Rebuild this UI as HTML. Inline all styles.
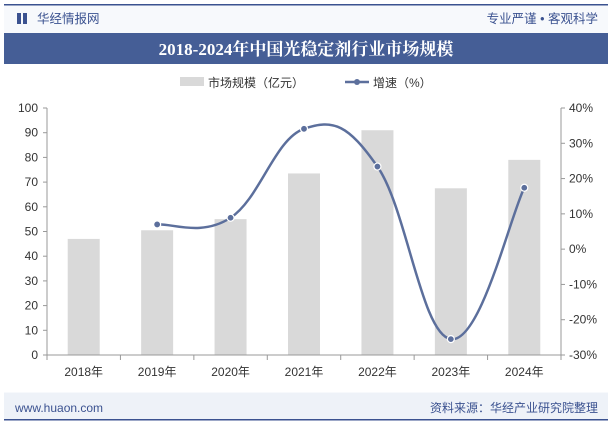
<!DOCTYPE html>
<html><head><meta charset="utf-8">
<style>
body{margin:0;width:612px;height:425px;overflow:hidden;background:#fff;font-family:"Liberation Sans","Noto Sans CJK SC",sans-serif;}
svg{display:block}
</style></head>
<body>
<svg width="612" height="425">
<rect x="4" y="5" width="604" height="415" fill="#f7f9fc"/>
<rect x="4" y="4" width="604" height="1.5" fill="#3b5290"/>
<rect x="17" y="13" width="4" height="11" fill="#3b5290"/>
<rect x="23" y="13" width="4" height="11" fill="#3b5290"/>
<text x="37" y="23" font-size="12.5" fill="#3b5290">华经情报网</text>
<text x="598" y="23" font-size="12.5" fill="#3b5290" text-anchor="end">专业严谨 • 客观科学</text>
<rect x="4" y="33" width="604" height="31" fill="#455e96"/>
<text x="306" y="55" font-size="17" font-weight="bold" fill="#fff" text-anchor="middle" font-family="'Liberation Serif','Noto Serif CJK SC',serif">2018-2024年中国光稳定剂行业市场规模</text>
<rect x="4" y="64" width="604" height="328" fill="#fff"/>
<rect x="180" y="77" width="24" height="9" fill="#d9d9d9"/>
<text x="208" y="87" font-size="12" fill="#333">市场规模（亿元）</text>
<line x1="345" y1="82" x2="369" y2="82" stroke="#5c6f9c" stroke-width="2.5"/>
<circle cx="357" cy="82" r="3" fill="#5c6f9c"/>
<text x="373" y="87" font-size="12" fill="#333">增速（%）</text>
<g id="g"></g>
<rect x="4" y="393" width="604" height="27" fill="#eef2f8"/>
<rect x="4" y="419" width="604" height="1.5" fill="#3b5290"/>
<text x="15" y="412" font-size="12" fill="#3b5290">www.huaon.com</text>
<text x="598" y="412" font-size="12" fill="#3b5290" text-anchor="end">资料来源：华经产业研究院整理</text>
</svg>
<script>
const categories=["2018年","2019年","2020年","2021年","2022年","2023年","2024年"];
const marketSize=[47,50.5,55,73.5,91,67.5,79];
const growth=[null,7,8.9,34.1,23.4,-25.5,17.4];
const leftTicks=[0,10,20,30,40,50,60,70,80,90,100];
const rightTicks=[-30,-20,-10,0,10,20,30,40];
const NS="http://www.w3.org/2000/svg";
const g=document.getElementById('g');
const X0=47,X1=561,Y0=355,Y1=108;
const bw=(X1-X0)/categories.length;
const xc=i=>X0+bw*(i+0.5);
const yL=v=>Y0-(v/100)*(Y0-Y1);
const yR=v=>Y0-((v+30)/70)*(Y0-Y1);
function mk(t,a){const e=document.createElementNS(NS,t);for(const k in a)e.setAttribute(k,a[k]);g.appendChild(e);return e;}
leftTicks.forEach(v=>{const t=mk('text',{x:X0-9,y:yL(v)+4,'font-size':12,'text-anchor':'end',fill:'#333'});t.textContent=v;


const l=mk('line',{x1:X0-4,x2:X0,y1:yL(v),y2:yL(v),stroke:'#999'});

});
rightTicks.forEach(v=>{const t=mk('text',{x:X1+8,y:yR(v)+4,'font-size':12,fill:'#333'});t.textContent=v+'%';


const l=mk('line',{x1:X1,x2:X1+4,y1:yR(v),y2:yR(v),stroke:'#999'});

});
categories.forEach((c,i)=>{const b=mk('rect',{x:xc(i)-16,y:yL(marketSize[i]),width:32,height:Y0-yL(marketSize[i]),fill:'#d9d9d9'});


const t=mk('text',{x:xc(i),y:Y0+21,'font-size':12,'text-anchor':'middle',fill:'#333'});t.textContent=c;


const l=mk('line',{x1:X0+bw*i,x2:X0+bw*i,y1:Y0,y2:Y0+5,stroke:'#999'});

});
const lt=mk('line',{x1:X0+bw*7,x2:X0+bw*7,y1:Y0,y2:Y0+5,stroke:'#999'});


const ax=mk('line',{x1:X0,x2:X1,y1:Y0,y2:Y0,stroke:'#999'});


const la=mk('line',{x1:X0,x2:X0,y1:Y1,y2:Y0,stroke:'#999'});


const ra=mk('line',{x1:X1,x2:X1,y1:Y1,y2:Y0,stroke:'#999'});


const pts=[];growth.forEach((v,i)=>{if(v!==null)pts.push([xc(i),yR(v)]);});
let d='M'+pts[0][0]+','+pts[0][1];
for(let i=0;i<pts.length-1;i++){const p0=pts[i-1]||pts[i],p1=pts[i],p2=pts[i+1],p3=pts[i+2]||p2;const k=0.2;
d+=' C'+(p1[0]+(p2[0]-p0[0])*k)+','+(p1[1]+(p2[1]-p0[1])*k)+' '+(p2[0]-(p3[0]-p1[0])*k)+','+(p2[1]-(p3[1]-p1[1])*k)+' '+p2[0]+','+p2[1];}
const path=mk('path',{d:d,fill:'none',stroke:'#5c6f9c','stroke-width':2.5});


pts.forEach(p=>{const c=mk('circle',{cx:p[0],cy:p[1],r:3.5,fill:'#5c6f9c',stroke:'#fff','stroke-width':1.2});

});
</script>
</body></html>
